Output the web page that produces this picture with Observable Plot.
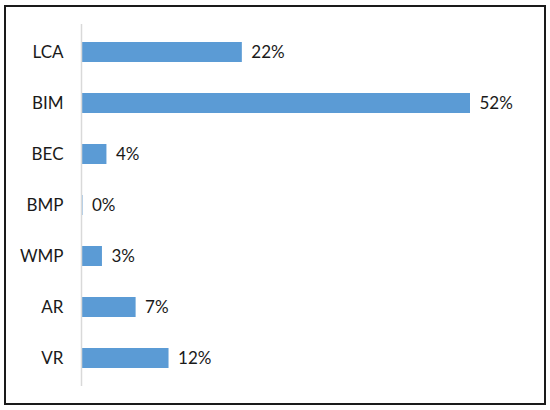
<!DOCTYPE html>
<html>
<head>
<meta charset="utf-8">
<script src="https://cdn.jsdelivr.net/npm/d3@7"></script>
<script src="https://cdn.jsdelivr.net/npm/@observablehq/plot@0.6"></script>
<style>
  html, body { margin: 0; padding: 0; background: #fff; }
  #wrap { position: relative; width: 550px; height: 410px; }
  #frame { position: absolute; left: 4px; top: 5px; width: 538px; height: 396px; border: 2px solid #1a1a1a; pointer-events: none; }
</style>
</head>
<body>
<div id="wrap"><div id="frame"></div></div>
<script>
const categories = ["LCA", "BIM", "BEC", "BMP", "WMP", "AR", "VR"];
const values = [21.5, 52, 3.4, 0.2, 2.8, 7.3, 11.7];
const labels = ["22%", "52%", "4%", "0%", "3%", "7%", "12%"];

const data = categories.map((c, i) => ({category: c, value: values[i], label: labels[i]}));

const chart = Plot.plot({
  width: 550,
  height: 410,
  marginLeft: 81,
  marginRight: 80,
  marginTop: 24,
  marginBottom: 24,
  style: {fontFamily: "Lato, 'Open Sans', sans-serif", fontSize: "17px", color: "#1a1a1a", background: "transparent"},
  x: {domain: [0, 52], axis: null},
  y: {domain: categories, padding: 0.6, paddingOuter: 0.3, label: null, tickSize: 0, tickPadding: 18},
  marks: [
    Plot.barX(data, {x: "value", y: "category", fill: "#5B9BD5"}),
    Plot.ruleX([0], {stroke: "#d9d9d9", strokeWidth: 1.5}),
    Plot.text(data, {x: "value", y: "category", text: "label", textAnchor: "start", dx: 9, fontSize: 17, fill: "#1a1a1a"}),
    Plot.axisY({tickSize: 0, tickPadding: 18, fontSize: 17, label: null})
  ]
});
document.getElementById("wrap").prepend(chart);
</script>
</body>
</html>
